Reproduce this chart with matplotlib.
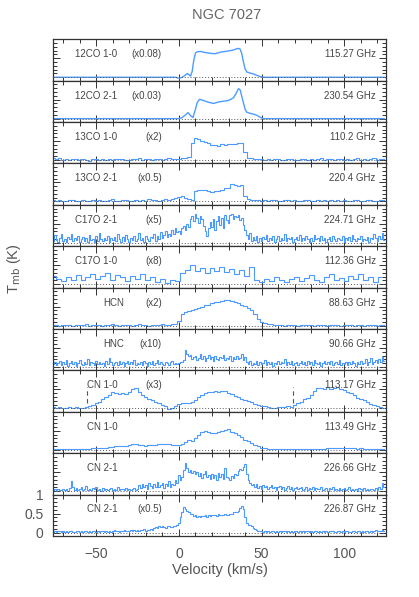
import matplotlib
matplotlib.use('Agg')
import matplotlib.pyplot as plt
import matplotlib.ticker as ticker
import numpy as np

plt.rcParams['font.family'] = ['Liberation Sans', 'DejaVu Sans']

# line labels, scale factors and rest frequencies (top to bottom)
names = ['12CO 1-0', '12CO 2-1', '13CO 1-0', '13CO 2-1', 'C17O 2-1', 'C17O 1-0',
         'HCN', 'HNC', 'CN 1-0', 'CN 1-0', 'CN 2-1', 'CN 2-1']
factors = ['(x0.08)', '(x0.03)', '(x2)', '(x0.5)', '(x5)', '(x8)',
           '(x2)', '(x10)', '(x3)', '', '', '(x0.5)']
freqs = ['115.27 GHz', '230.54 GHz', '110.2 GHz', '220.4 GHz', '224.71 GHz', '112.36 GHz',
         '88.63 GHz', '90.66 GHz', '113.17 GHz', '113.49 GHz', '226.66 GHz', '226.87 GHz']

# smooth 12CO profiles (velocity, Tmb scaled)
v_12co10 = [-76, -20, -2, 0, 2, 4, 5, 6, 7, 8, 9, 10, 11, 13, 16, 19, 22, 25, 28, 31,
            33, 35, 36, 37, 38, 39, 40, 41, 43, 45, 47, 49, 51, 60, 124]
t_12co10 = [0, 0, 0, -0.03, 0, 0.06, 0.1, 0.07, 0.03, 0.15, 0.45, 0.64, 0.67, 0.68, 0.65,
            0.63, 0.62, 0.66, 0.68, 0.70, 0.72, 0.75, 0.76, 0.74, 0.62, 0.40, 0.22, 0.14,
            0.11, 0.09, 0.05, 0.02, 0, 0, 0]
v_12co21 = [-76, -20, 0, 2, 4, 5.5, 7, 8.5, 10, 11, 12.5, 14, 16, 18, 21, 24, 27, 29, 31, 33,
            34.5, 36, 37, 38.5, 40, 41, 43, 45, 47, 49, 51, 60, 124]
t_12co21 = [0, 0, 0, 0.03, 0.10, 0.16, 0.08, 0.03, 0.25, 0.42, 0.51, 0.49, 0.46, 0.43, 0.40,
            0.44, 0.46, 0.47, 0.50, 0.55, 0.66, 0.79, 0.76, 0.50, 0.25, 0.17, 0.14, 0.12,
            0.09, 0.04, 0, 0, 0]

# channel spectra, 2 km/s channels starting at -76 km/s
t_13co10 = [0.05, 0.02, 0.06, 0.01, 0.03, -0.01, 0.02, 0.04, 0.0, 0.03, 0.01, -0.02, 0.02,
            0.03, 0.0, 0.04, 0.01, 0.02, -0.01, 0.03, 0.02, 0.04, 0.01, 0.0, 0.03, 0.02,
            0.05, 0.01, 0.02, 0.03, 0.0, 0.04, 0.02, 0.01, 0.03, 0.05, 0.02, 0.04,
            0.03, 0.06, 0.05, 0.08, 0.45, 0.58, 0.55, 0.50, 0.47, 0.44, 0.39, 0.40, 0.38,
            0.41, 0.40, 0.42, 0.41, 0.43, 0.45, 0.44, 0.20, 0.06, 0.05, 0.04, 0.03, 0.02,
            0.01, 0.03, 0.0, 0.02, 0.04, 0.01, -0.01, 0.02, 0.03, 0.0, 0.01, 0.04, 0.02,
            -0.01, 0.03, 0.01, 0.02, 0.05, 0.0, 0.02, 0.03, 0.01, 0.04, 0.02, 0.0, 0.03,
            0.01, 0.02, 0.05, 0.01, 0.03, 0.0, 0.02, 0.06, 0.01, 0.03, 0.02]
t_13co21 = [0.03, 0.01, 0.04, 0.02, 0.0, 0.03, 0.05, 0.01, 0.02, 0.04, 0.0, 0.02, 0.03,
            0.01, 0.05, 0.02, 0.0, 0.03, 0.06, 0.01, 0.02, 0.04, 0.03, 0.0, 0.02, 0.05,
            0.01, 0.03, 0.02, 0.06, 0.03, 0.04, 0.02, 0.05, 0.07, 0.04, 0.06, 0.09,
            0.11, 0.13, 0.10, 0.06, 0.05, 0.27, 0.31, 0.29, 0.30, 0.27, 0.25, 0.28, 0.27,
            0.31, 0.36, 0.35, 0.46, 0.44, 0.40, 0.43, 0.14, 0.06, 0.04, 0.05, 0.03,
            0.02, 0.05, 0.01, 0.03, 0.04, 0.0, 0.02, 0.05, 0.03, 0.01, 0.04, 0.02, 0.0,
            0.03, 0.05, 0.02, 0.01, 0.04, 0.02, 0.03, 0.0, 0.05, 0.02, 0.03, 0.01, 0.04,
            0.02, 0.0, 0.03, 0.05, 0.01, 0.02, 0.04, 0.03, 0.01, 0.02, 0.05, 0.03]
t_hcn = [0.01, 0.02, 0.0, 0.01, 0.02, 0.01, 0.0, 0.02, 0.01, 0.01, 0.03, 0.0, 0.01, 0.02,
         0.01, 0.0, 0.02, 0.01, 0.03, 0.01, 0.0, 0.02, 0.01, 0.02, 0.0, 0.01, 0.03, 0.01,
         0.02, 0.0, 0.01, 0.02, 0.01, 0.03, 0.02, 0.01, 0.03,
         0.04, 0.12, 0.30, 0.36, 0.38, 0.42, 0.45, 0.47, 0.50, 0.53, 0.55, 0.59, 0.62,
         0.63, 0.66, 0.68, 0.67, 0.65, 0.63, 0.60, 0.55, 0.51, 0.47, 0.42, 0.30, 0.17,
         0.09, 0.06, 0.04, 0.03,
         0.02, 0.01, 0.02, 0.0, 0.01, 0.02, 0.01, 0.0, 0.02, 0.01, 0.01, 0.02, 0.0, 0.01,
         0.02, 0.01, 0.0, 0.01, 0.02, 0.01, 0.0, 0.02, 0.01, 0.01, 0.0, 0.02, 0.01, 0.0,
         0.01, 0.02, 0.01, 0.0, 0.01, 0.02]
t_cn10a = [0.04, 0.02, 0.03, 0.0, 0.02, 0.03, 0.01, 0.04, 0.02, 0.0, 0.03, 0.05, 0.08, 0.13,
           0.18, 0.24, 0.30, 0.35, 0.44, 0.40, 0.38, 0.41, 0.39, 0.43, 0.50, 0.53, 0.44,
           0.36, 0.30, 0.24, 0.21, 0.18, 0.15, 0.10, 0.06, -0.02, 0.02, 0.05, 0.12, 0.13,
           0.14, 0.15, 0.17, 0.22, 0.30, 0.36, 0.40, 0.42, 0.43, 0.45, 0.44, 0.47, 0.45,
           0.40, 0.38, 0.33, 0.30, 0.26, 0.22, 0.19, 0.16, 0.12, 0.10, 0.07, 0.05, 0.04,
           0.02, 0.0, 0.03, 0.04, 0.03, 0.05, 0.04, 0.08, 0.15, 0.18, 0.24, 0.28, 0.35,
           0.45, 0.53, 0.55, 0.52, 0.56, 0.51, 0.53, 0.57, 0.52, 0.48, 0.42, 0.40, 0.35,
           0.28, 0.24, 0.22, 0.18, 0.12, 0.09, 0.05, 0.03, 0.02]
t_cn10b = [0.02, 0.02, 0.03, 0.02, 0.01, 0.02, 0.03, 0.02, 0.02, 0.03, 0.02, 0.03, 0.04, 0.04,
           0.05, 0.05, 0.06, 0.07, 0.08, 0.09, 0.10, 0.11, 0.10, 0.12,
           0.15, 0.14, 0.13, 0.12, 0.11, 0.12, 0.13, 0.12, 0.14, 0.15,
           0.16, 0.14, 0.13, 0.12, 0.13, 0.16, 0.21, 0.25, 0.22, 0.30,
           0.38, 0.46, 0.50, 0.47, 0.44, 0.45, 0.47, 0.49, 0.53, 0.54,
           0.47, 0.43, 0.38, 0.33, 0.27, 0.23, 0.19, 0.13, 0.09, 0.06,
           0.04, 0.03, 0.02, 0.02, 0.01, 0.02, 0.01, 0.01, 0.02, 0.01,
           0.02, 0.01, 0.02, 0.02, 0.03, 0.02, 0.03, 0.02, 0.03, 0.04,
           0.04, 0.05, 0.04, 0.05, 0.05, 0.04, 0.05, 0.04, 0.03, 0.04,
           0.03, 0.02, 0.03, 0.02, 0.03, 0.02, 0.02]

# noisier spectra, 1 km/s channels starting at -76 km/s
t_c17o21 = [0.05, 0.20, 0.08, 0.02, 0.14, 0.22, 0.06, 0.11, 0.03, 0.16,
            0.09, 0.24, 0.04, 0.12, 0.07, 0.18, 0.01, 0.10, 0.15, 0.05,
            0.13, 0.03, 0.21, 0.08, 0.11, 0.02, 0.17, 0.06, 0.26, 0.09,
            0.04, 0.14, 0.07, 0.19, 0.02, 0.12, 0.08, 0.16, 0.05, 0.23,
            0.10, 0.03, 0.15, 0.06, 0.20, 0.09, 0.01, 0.13, 0.07, 0.18,
            0.04, 0.11, 0.25, 0.08, 0.14, 0.03, 0.19, 0.10, 0.06, 0.16,
            0.12, 0.22, 0.05, 0.18, 0.09, 0.28, 0.13, 0.20, 0.31, 0.15,
            0.24, 0.18, 0.35, 0.22, 0.40, 0.28,
            0.30, 0.22, 0.38, 0.45, 0.33, 0.50, 0.42, 0.62, 0.70, 0.58,
            0.77, 0.66, 0.52, 0.71, 0.64, 0.45, 0.30, 0.18, 0.38, 0.55,
            0.42, 0.63, 0.35, 0.58, 0.70, 0.48, 0.66, 0.40, 0.74, 0.60,
            0.52, 0.72, 0.76, 0.62, 0.70, 0.68, 0.73, 0.60, 0.66, 0.48,
            0.35,
            0.20, 0.10, 0.25, 0.05, 0.15, 0.08, 0.18, 0.02, 0.12, 0.06,
            0.16, 0.09, 0.21, 0.04, 0.13, 0.07, 0.17, 0.03, 0.11, 0.19,
            0.06, 0.14, 0.08, 0.22, 0.05, 0.12, 0.10, 0.16, 0.02, 0.09,
            0.15, 0.07, 0.20, 0.04, 0.13, 0.08, 0.18, 0.11, 0.03, 0.14,
            0.06, 0.21, 0.09, 0.12, 0.05, 0.17, 0.08, 0.13, 0.02, 0.10,
            0.16, 0.06, 0.19, 0.09, 0.04, 0.14, 0.11, 0.07, 0.18, 0.03,
            0.12, 0.08, 0.15, 0.05, 0.20, 0.10, 0.06, 0.13, 0.09, 0.17,
            0.04, 0.11, 0.07, 0.16, 0.02, 0.12, 0.09, 0.23, 0.14, 0.06,
            0.18, 0.10, 0.26, 0.08]
t_hnc = [0.08, 0.14, 0.04, 0.11, 0.17, 0.06, 0.12, 0.09, 0.19, 0.03,
         0.10, 0.15, 0.07, 0.13, 0.02, 0.11, 0.18, 0.08, 0.05, 0.14,
         0.09, 0.21, 0.06, 0.12, 0.10, 0.04, 0.16, 0.08, 0.13, 0.07,
         0.11, 0.03, 0.15, 0.09, 0.24, 0.12, 0.06, 0.10, 0.14, 0.05,
         0.17, 0.08, 0.12, 0.02, 0.10, 0.15, 0.07, 0.13, 0.09, 0.19,
         0.04, 0.11, 0.08, 0.14, 0.06, 0.16, 0.10, 0.03, 0.12, 0.08,
         0.15, 0.05, 0.11, 0.18, 0.07, 0.13, 0.09, 0.04, 0.14, 0.10,
         0.06, 0.12, 0.17, 0.08, 0.11, 0.09,
         0.10, 0.14, 0.12, 0.18, 0.44, 0.35, 0.28, 0.32, 0.22, 0.27,
         0.30, 0.19, 0.25, 0.33, 0.21, 0.28, 0.17, 0.24, 0.31, 0.20,
         0.26, 0.16, 0.29, 0.22, 0.18, 0.27, 0.23, 0.32, 0.19, 0.25,
         0.21, 0.30, 0.17, 0.26, 0.22, 0.28, 0.20, 0.24, 0.33, 0.18,
         0.27,
         0.12, 0.08, 0.15, 0.05, 0.11, 0.09, 0.16, 0.04, 0.13, 0.07,
         0.10, 0.18, 0.06, 0.12, 0.09, 0.14, 0.03, 0.11, 0.08, 0.15,
         0.07, 0.13, 0.10, 0.20, 0.05, 0.12, 0.09, 0.16, 0.06, 0.11,
         0.14, 0.04, 0.10, 0.17, 0.08, 0.12, 0.06, 0.15, 0.09, 0.13,
         0.05, 0.19, 0.10, 0.07, 0.14, 0.02, 0.11, 0.16, 0.08, 0.12,
         0.09, 0.15, 0.04, 0.10, 0.13, 0.07, 0.18, 0.06, 0.11, 0.09,
         0.14, 0.05, 0.12, 0.08, 0.16, 0.10, 0.03, 0.13, 0.09, 0.15,
         0.07, 0.11, 0.20, 0.06, 0.12, 0.25, 0.08, 0.14, 0.18, 0.10,
         0.22, 0.12, 0.27, 0.15]
t_cn21a = [0.03, 0.05, 0.01, 0.06, 0.02, 0.04, 0.07, 0.03, 0.05, 0.01,
           0.08, 0.26, 0.12, 0.04, 0.09, 0.03, 0.06, 0.10, 0.02, 0.05,
           0.13, 0.04, 0.07, 0.02, 0.09, 0.05, 0.11, 0.03, 0.06, 0.01,
           0.08, 0.04, 0.07, 0.02, 0.05, 0.09, 0.03, 0.06, 0.04, 0.10,
           0.02, 0.07, 0.05, 0.03, 0.08, 0.04, 0.06, 0.02, 0.05, 0.09,
           0.03, 0.06, 0.15, 0.08, 0.20, 0.11, 0.17, 0.06, 0.22, 0.13,
           0.09, 0.18, 0.12, 0.25, 0.10, 0.16, 0.21, 0.08, 0.19, 0.14,
           0.27, 0.12, 0.20, 0.16, 0.29, 0.22,
           0.42, 0.30, 0.38, 0.55, 0.74, 0.62, 0.50, 0.56, 0.48, 0.52,
           0.44, 0.50, 0.40, 0.47, 0.36, 0.45, 0.52, 0.38, 0.43, 0.33,
           0.46, 0.35, 0.42, 0.30, 0.48, 0.37, 0.44, 0.32, 0.60, 0.38,
           0.34, 0.30, 0.40, 0.36, 0.46, 0.42, 0.52, 0.58, 0.55, 0.63,
           0.71,
           0.45, 0.30, 0.22, 0.15, 0.20, 0.12, 0.18, 0.09, 0.14, 0.06,
           0.16, 0.10, 0.13, 0.05, 0.11, 0.15, 0.08, 0.12, 0.04, 0.10,
           0.14, 0.07, 0.11, 0.03, 0.09, 0.13, 0.06, 0.10, 0.02, 0.08,
           0.12, 0.05, 0.09, 0.11, 0.04, 0.07, 0.10, 0.03, 0.08, 0.06,
           0.12, 0.02, 0.09, 0.05, 0.07, 0.11, 0.03, 0.06, 0.09, 0.01,
           0.08, 0.05, 0.10, 0.03, 0.07, 0.04, 0.09, 0.02, 0.06, 0.08,
           0.03, 0.05, 0.10, 0.02, 0.07, 0.04, 0.06, 0.01, 0.08, 0.05,
           0.03, 0.09, 0.04, 0.06, 0.02, 0.07, 0.05, 0.03, 0.08, 0.04,
           0.10, 0.06, 0.22, 0.12]
t_cn21b = [0.02, 0.04, 0.01, 0.03, 0.05, 0.02, 0.03, 0.01, 0.04, 0.02,
           0.03, 0.05, 0.01, 0.02, 0.04, 0.03, 0.01, 0.05, 0.02, 0.03,
           0.04, 0.01, 0.03, 0.02, 0.05, 0.03, 0.01, 0.04, 0.02, 0.03,
           0.05, 0.02, 0.04, 0.01, 0.03, 0.02, 0.04, 0.06, 0.03, 0.05,
           0.02, 0.04, 0.03, 0.06, 0.04, 0.05, 0.03, 0.07, 0.04, 0.06,
           0.05, 0.08, 0.04, 0.07, 0.06, 0.09, 0.05, 0.08, 0.07, 0.10,
           0.06, 0.12, 0.15, 0.13, 0.16, 0.14, 0.17, 0.15, 0.13, 0.16,
           0.18, 0.14, 0.15, 0.17, 0.16, 0.19,
           0.25, 0.40, 0.55, 0.68, 0.62, 0.58, 0.55, 0.50, 0.48, 0.44,
           0.45, 0.42, 0.43, 0.41, 0.44, 0.43, 0.45, 0.42, 0.46, 0.44,
           0.47, 0.45, 0.46, 0.44, 0.48, 0.46, 0.47, 0.45, 0.49, 0.47,
           0.45, 0.48, 0.50, 0.53, 0.55, 0.54, 0.58, 0.66, 0.71, 0.62,
           0.42,
           0.25, 0.20, 0.19, 0.17, 0.12, 0.10, 0.07, 0.05, 0.03, 0.04,
           0.02, 0.03, 0.01, 0.04, 0.02, 0.03, 0.05, 0.01, 0.03, 0.02,
           0.04, 0.01, 0.03, 0.05, 0.02, 0.04, 0.01, 0.03, 0.02, 0.04,
           0.05, 0.02, 0.03, 0.01, 0.04, 0.02, 0.03, 0.05, 0.01, 0.03,
           0.02, 0.04, 0.03, 0.01, 0.05, 0.02, 0.04, 0.01, 0.03, 0.02,
           0.04, 0.03, 0.05, 0.01, 0.02, 0.04, 0.03, 0.01, 0.05, 0.02,
           0.03, 0.04, 0.02, 0.01, 0.03, 0.05, 0.02, 0.04, 0.03, 0.01,
           0.04, 0.02, 0.05, 0.03, 0.02, 0.04, 0.01, 0.03, 0.06, 0.04,
           0.05, 0.03, 0.07, 0.04]

# C17O 1-0 has 3 km/s channels starting at -76 km/s
t_c17o10 = [0.22, 0.15, 0.08, 0.20, 0.12, 0.24, 0.10, 0.18, 0.27, 0.14, 0.22, 0.30, 0.12,
            0.25, 0.18, 0.08, 0.22, 0.15, 0.26, 0.10, 0.18, 0.06, 0.14, 0.04, 0.10, 0.08,
            0.30, 0.38, 0.50, 0.36, 0.44, 0.30, 0.42, 0.34, 0.46, 0.32, 0.40, 0.28, 0.38,
            0.22, 0.46, 0.12, 0.06, 0.14, 0.08, 0.18, 0.10, 0.06, 0.15, 0.20, 0.09, 0.16,
            0.24, 0.12, 0.07, 0.19, 0.26, 0.11, 0.17, 0.08, 0.22, 0.14, 0.27, 0.10, 0.18,
            0.06, 0.20]

# hyperfine markers in the CN 1-0 (113.17 GHz) panel
cn_marks = [-55.4, 69.1]


def chan(vals, step):
    return -76 + step * np.arange(len(vals))


spectra = [
    (v_12co10, t_12co10, None),
    (v_12co21, t_12co21, None),
    (chan(t_13co10, 2), t_13co10, 'steps-mid'),
    (chan(t_13co21, 2), t_13co21, 'steps-mid'),
    (chan(t_c17o21, 1), t_c17o21, 'steps-mid'),
    (chan(t_c17o10, 3), t_c17o10, 'steps-mid'),
    (chan(t_hcn, 2), t_hcn, 'steps-mid'),
    (chan(t_hnc, 1), t_hnc, 'steps-mid'),
    (chan(t_cn10a, 2), t_cn10a, 'steps-mid'),
    (chan(t_cn10b, 2), t_cn10b, 'steps-mid'),
    (chan(t_cn21a, 1), t_cn21a, 'steps-mid'),
    (chan(t_cn21b, 1), t_cn21b, 'steps-mid'),
]

name_x = [0.067, 0.067, 0.067, 0.067, 0.067, 0.067, 0.15, 0.15, 0.102, 0.102, 0.102, 0.102]

blue = '#4d9bff'
ink = '#333333'

fig, axes = plt.subplots(12, 1, sharex=True, figsize=(4.19, 5.97), dpi=100)
fig.subplots_adjust(left=0.127, right=0.9205, top=0.9342, bottom=0.1022, hspace=0)

for i, ax in enumerate(axes):
    v, t, ds = spectra[i]
    if ds:
        ax.plot(v, t, color=blue, lw=0.8, drawstyle=ds)
    else:
        ax.plot(v, t, color=blue, lw=1.0)
    ax.axhline(0, color='#555555', lw=0.7, ls=(0, (1, 2)), zorder=3)
    if i == 8:
        for m in cn_marks:
            ax.plot([m, m], [0.13, 0.57], color='#555555', lw=0.8, ls=(0, (4, 3)))

    ax.set_xlim(-76, 125)
    ax.set_ylim(-0.09, 1.0)
    ax.xaxis.set_major_locator(ticker.MultipleLocator(50))
    ax.xaxis.set_minor_locator(ticker.MultipleLocator(10))
    ax.yaxis.set_major_locator(ticker.MultipleLocator(0.5))
    ax.yaxis.set_minor_locator(ticker.MultipleLocator(0.1))
    ax.tick_params(which='both', direction='in', top=True, right=True,
                   bottom=True, left=True, color=ink, width=0.7)
    ax.tick_params(which='major', length=5)
    ax.tick_params(which='minor', length=3)
    ax.tick_params(axis='x', labelsize=10, labelcolor='#555555', pad=8)
    ax.tick_params(axis='y', labelsize=10, labelcolor='#555555', pad=7)
    if i < 11:
        ax.tick_params(labelbottom=False, labelleft=False)
    for s in ax.spines.values():
        s.set_color(ink)
        s.set_linewidth(0.9)

    ax.text(name_x[i], 0.64, names[i], transform=ax.transAxes, fontsize=7,
            color='#444444', ha='left', va='center')
    if factors[i]:
        ax.text(0.327, 0.64, factors[i], transform=ax.transAxes, fontsize=7,
                color='#444444', ha='right', va='center')
    ax.text(0.97, 0.64, freqs[i], transform=ax.transAxes, fontsize=7,
            color='#444444', ha='right', va='center')

axes[-1].yaxis.set_major_formatter(ticker.FuncFormatter(lambda y, p: f'{y:g}'))

fig.text(0.54, 0.975, 'NGC 7027', ha='center', va='center', fontsize=10.5, color='#666666')
fig.text(0.524, 0.045, 'Velocity (km/s)', ha='center', va='center', fontsize=10.5,
         color='#555555')
fig.text(0.034, 0.55, r'T$_{\rm mb}$ (K)', ha='center', va='center', rotation=90,
         fontsize=10.5, color='#555555')

fig.savefig('out.png', dpi=100)
